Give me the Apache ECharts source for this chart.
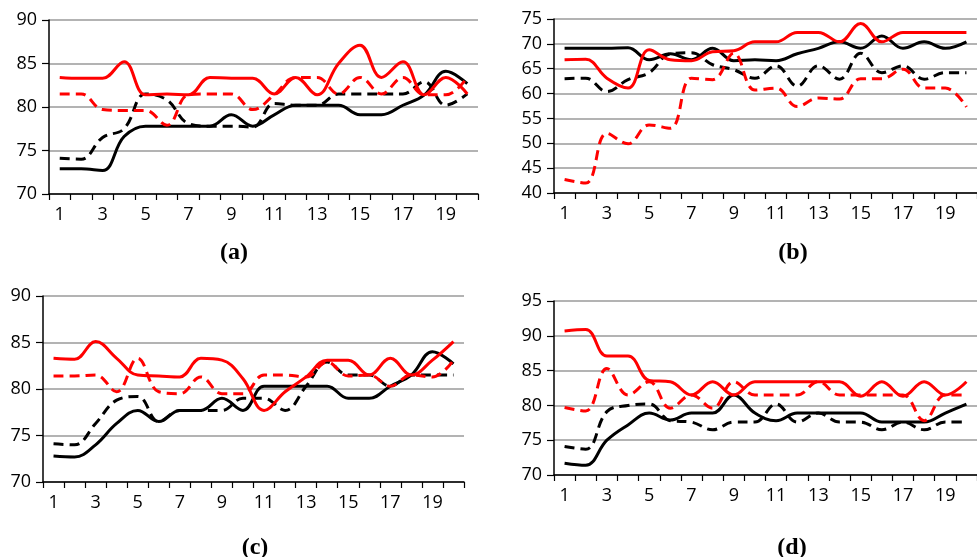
<!DOCTYPE html>
<html>
<head>
<meta charset="utf-8">
<script src="https://cdn.jsdelivr.net/npm/echarts@6/dist/echarts.min.js"></script>
<style>html,body{margin:0;padding:0;background:#fff}#c{width:977px;height:557px}</style>
</head>
<body>
<div id="c"></div>
<script>
var categories = ['1','2','3','4','5','6','7','8','9','10','11','12','13','14','15','16','17','18','19','20'];

// Panel (a)
var aRedSolid   = [83.4,83.3,83.3,85.2,81.4,81.5,81.4,83.4,83.3,83.3,81.5,83.4,81.4,85.0,87.1,83.4,85.2,81.4,83.4,81.5];
var aRedDashed  = [81.5,81.5,79.7,79.6,79.6,77.9,81.4,81.5,81.5,79.7,81.4,83.4,83.4,81.5,83.4,81.5,83.4,81.4,81.4,83.4];
var aBlackSolid = [72.9,72.9,72.7,76.6,77.8,77.8,77.8,77.8,79.1,77.8,79.1,80.2,80.2,80.2,79.1,79.1,80.2,81.4,84.1,82.7];
var aBlackDashed= [74.1,74.0,76.5,77.5,81.5,80.8,78.1,77.8,77.8,77.7,80.4,80.2,80.2,81.5,81.5,81.5,81.5,82.9,80.2,81.5];

// Panel (b)
var bRedSolid   = [66.8,66.9,63.1,61.1,68.8,66.8,66.6,68.4,68.6,70.4,70.4,72.3,72.3,70.4,74.1,70.4,72.3,72.3,72.3,72.3];
var bRedDashed  = [42.7,42.0,52.0,49.9,53.7,53.0,63.1,62.8,68.1,60.7,61.1,57.4,59.1,58.9,63.0,63.0,64.9,61.1,61.1,57.3];
var bBlackSolid = [69.1,69.1,69.1,69.2,66.8,68.0,66.8,69.1,66.6,66.8,66.6,68.0,69.1,70.4,69.1,71.6,69.1,70.4,69.1,70.4];
var bBlackDashed= [63.0,63.1,60.4,62.8,64.2,68.0,68.2,65.8,64.8,63.1,65.6,61.5,65.6,62.9,68.1,64.2,65.6,62.9,64.2,64.2];

// Panel (c)
var cRedSolid   = [83.3,83.2,85.1,83.3,81.5,81.4,81.3,83.3,83.1,81.1,77.7,79.7,81.3,83.1,83.1,81.5,83.3,81.5,83.1,85.1];
var cRedDashed  = [81.4,81.4,81.5,79.7,83.3,79.7,79.5,81.3,79.5,79.5,81.5,81.5,81.3,82.9,81.4,81.5,80.3,81.5,81.3,83.1];
var cBlackSolid = [72.8,72.7,74.0,76.3,77.7,76.5,77.7,77.7,79.0,77.7,80.3,80.3,80.3,80.3,79.0,79.0,80.3,81.5,84.0,82.7];
var cBlackDashed= [74.1,74.0,76.3,78.8,79.2,76.5,77.7,77.7,77.7,79.0,79.0,77.7,80.3,82.9,81.5,81.5,80.3,81.5,81.5,81.5];

// Panel (d)
var dRedSolid   = [90.7,90.9,87.1,87.1,83.6,83.4,81.5,83.4,81.5,83.4,83.4,83.4,83.4,83.4,81.3,83.4,81.3,83.4,81.5,83.4];
var dRedDashed  = [79.7,79.2,85.3,81.5,83.4,79.6,81.5,79.6,83.4,81.5,81.5,81.5,83.4,81.5,81.5,81.5,81.5,77.8,81.5,81.5];
var dBlackSolid = [71.7,71.4,75.0,77.2,78.9,77.9,78.9,78.9,81.5,78.9,77.8,78.9,78.9,78.9,78.9,77.6,77.6,77.6,78.9,80.2];
var dBlackDashed= [74.1,73.7,79.1,80.0,80.2,77.8,77.6,76.5,77.6,77.6,80.2,77.6,78.9,77.6,77.6,76.5,77.6,76.5,77.6,77.6];

var captions = ['(a)','(b)','(c)','(d)'];
var yMins = [70,40,70,70];
var yMaxs = [90,75,90,95];

var panels = [
  [aRedSolid,aRedDashed,aBlackSolid,aBlackDashed],
  [bRedSolid,bRedDashed,bBlackSolid,bBlackDashed],
  [cRedSolid,cRedDashed,cBlackSolid,cBlackDashed],
  [dRedSolid,dRedDashed,dBlackSolid,dBlackDashed]
];

var grids = [
  {left:49, top:20, width:429, height:174},
  {left:554, top:19, width:429, height:174},
  {left:43, top:296, width:421, height:186},
  {left:554, top:301, width:429, height:174}
];
var capPos = [[229,250],[788,250],[250,545],[787,545]];

var FONT = '"Open Sans", "Liberation Sans", sans-serif';
var chart = echarts.init(document.getElementById('c'), null, {renderer:'canvas'});

var xAxes = [], yAxes = [], series = [], titles = [];
for (var p = 0; p < 4; p++) {
  xAxes.push({
    gridIndex:p, type:'category', data:categories, boundaryGap:true,
    axisLine:{show:true, lineStyle:{color:'#000', width:1.5}},
    axisTick:{show:true, alignWithLabel:false, interval:0, length:6, lineStyle:{color:'#000', width:1.2}},
    axisLabel:{interval:1, color:'#000', fontSize:18, fontFamily:FONT, margin:12},
    splitLine:{show:false}
  });
  yAxes.push({
    gridIndex:p, type:'value', min:yMins[p], max:yMaxs[p], interval:5,
    axisLine:{show:true, lineStyle:{color:'#000', width:1.5}},
    axisTick:{show:true, length:7, lineStyle:{color:'#000', width:1.2}},
    axisLabel:{color:'#000', fontSize:18, fontFamily:FONT, margin:12},
    splitLine:{show:true, lineStyle:{color:'#9a9a9a', width:1.5}}
  });
  var d = panels[p];
  var styles = [
    {color:'#000', type:[10,6], data:d[3]},
    {color:'#000', type:'solid', data:d[2]},
    {color:'#ff0000', type:[10,6], data:d[1]},
    {color:'#ff0000', type:'solid', data:d[0]}
  ];
  styles.forEach(function(s){
    series.push({
      type:'line', xAxisIndex:p, yAxisIndex:p, data:s.data, smooth:0.4,
      symbol:'none', animation:false,
      lineStyle:{color:s.color, width:3, type:s.type}
    });
  });
  titles.push({
    text:captions[p], left:capPos[p][0], top:capPos[p][1]-14, textAlign:'center',
    textStyle:{fontFamily:'"Liberation Serif", serif', fontWeight:'bold', fontSize:24, color:'#000'}
  });
}

chart.setOption({
  animation:false,
  title:titles,
  grid:grids,
  xAxis:xAxes,
  yAxis:yAxes,
  series:series
});
</script>
</body>
</html>
